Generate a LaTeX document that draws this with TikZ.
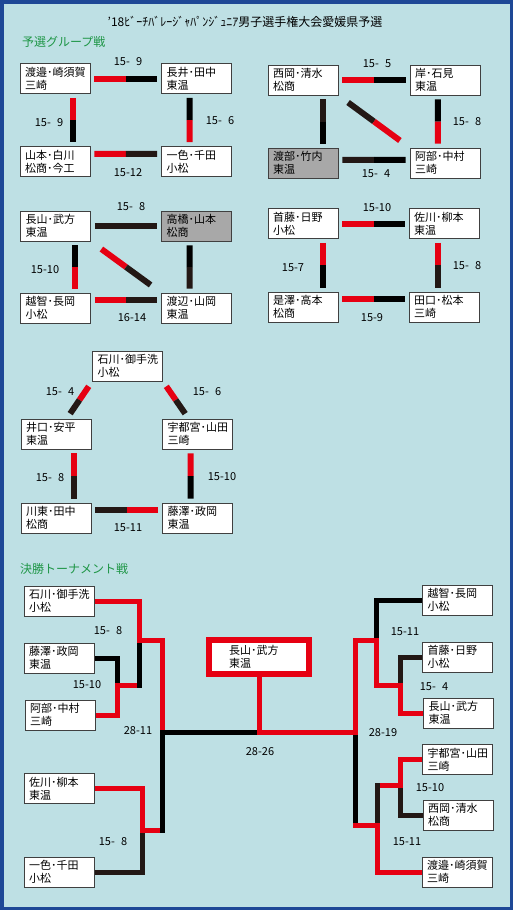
\documentclass[tikz,border=0pt]{standalone}
\usepackage{fontspec}
\newfontfamily\jp{Noto Sans CJK JP}
\usetikzlibrary{calc}
\definecolor{fundo}{RGB}{190,224,228}
\definecolor{moldura}{RGB}{30,72,150}
\definecolor{vermelho}{RGB}{230,0,18}
\definecolor{escuro}{RGB}{35,24,21}
\definecolor{verde}{RGB}{30,150,70}
\definecolor{cinza}{RGB}{168,168,168}
\pgfdeclarelayer{back}
\pgfsetlayers{back,main}
\newcommand{\esp}{\hphantom{0}}
\newcommand{\duplo}[5][4pt]{%
  \coordinate (meio) at ($(#2)!0.5!(#3)$);
  \draw[barra,#4,shorten <=#1] (#2) -- (meio);
  \draw[barra,#5,shorten >=#1] (meio) -- (#3);}

\begin{document}
\begin{tikzpicture}[x=1pt, y=-1pt,
    caixa/.style={draw=black!75, fill=white, line width=0.8pt, text width=60pt,
      align=left, minimum width=70pt, minimum height=30pt, inner xsep=5pt,
      inner ysep=1pt, font=\jp\fontsize{11}{13}\selectfont},
    fora/.style={caixa, fill=cinza},
    campeao/.style={caixa, draw=vermelho, line width=6pt, minimum width=100pt, minimum height=34pt},
    placar/.style={font=\jp\fontsize{11}{13}\selectfont},
    barra/.style={line width=6pt},
    linha/.style={line width=5pt, line cap=rect, line join=miter},
    titulo/.style={font=\jp\fontsize{12}{14}\selectfont},
    secao/.style={font=\jp\fontsize{12}{14}\selectfont, text=verde, anchor=west, inner sep=0pt}]
  \begin{pgfonlayer}{back}
    \fill[fundo] (0,0) rectangle (513,910);
  \end{pgfonlayer}
  \useasboundingbox (0,0) rectangle (513,910);
  % Título
  \node[titulo] (titulo) at (245,22) {’18ﾋﾞｰﾁﾊﾞﾚｰｼﾞｬﾊﾟﾝｼﾞｭﾆｱ男子選手権大会愛媛県予選};
  \node[secao] (grupos) at (22,42) {予選グループ戦};

  % Grupo 1
  \node[caixa] (A1) at (55,78.5) {渡邉･崎須賀\\三崎};
  \node[caixa] (A2) at (196.5,78.5) {長井･田中\\東温};
  \node[caixa] (A3) at (55,161.5) {山本･白川\\松商･今工};
  \node[caixa] (A4) at (196.5,161.5) {一色･千田\\小松};
  \duplo{A1.east}{A2.west}{vermelho}{black}
  \duplo{A1.-40}{A3.40}{vermelho}{black}
  \duplo{A2.-114}{A4.114}{black}{vermelho}
  \duplo{A3.12}{A4.168}{vermelho}{escuro}
  \node[placar] (a12) at (128,62) {15-\esp9};
  \node[placar] (a13) at (49,123) {15-\esp9};
  \node[placar] (a24) at (220,121) {15-\esp6};
  \node[placar] (a34) at (128,173) {15-12};

  % Grupo 2
  \node[caixa] (B1) at (303,80) {西岡･清水\\松商};
  \node[caixa] (B2) at (445,80) {岸･石見\\東温};
  \node[fora] (B3) at (303,163) {渡部･竹内\\東温};
  \node[caixa] (B4) at (445,163) {阿部･中村\\三崎};
  \duplo{B1.east}{B2.west}{vermelho}{black}
  \duplo{B1.-38}{B3.38}{escuro}{black}
  \duplo{B2.-115}{B4.115}{black}{vermelho}
  \duplo[12pt]{B1.south east}{B4.north west}{escuro}{vermelho}
  \duplo{B3.5}{B4.175}{escuro}{black}
  \node[placar] (b12) at (377,64) {15-\esp5};
  \node[placar] (b24) at (467,122) {15-\esp8};
  \node[placar] (b34) at (376,174) {15-\esp4};

  % Grupo 3
  \node[caixa] (C1) at (55.5,226) {長山･武方\\東温};
  \node[fora] (C2) at (196.5,226) {高橋･山本\\松商};
  \node[caixa] (C3) at (55.5,308) {越智･長岡\\小松};
  \node[caixa] (C4) at (196.5,308) {渡辺･山岡\\東温};
  \duplo{C1.east}{C2.west}{escuro}{escuro}
  \duplo{C1.-39}{C3.39}{black}{vermelho}
  \duplo[13pt]{C1.south east}{C4.north west}{vermelho}{escuro}
  \duplo{C2.-114}{C4.114}{black}{escuro}
  \duplo{C3.13}{C4.167}{vermelho}{escuro}
  \node[placar] (c12) at (131,207) {15-\esp8};
  \node[placar] (c13) at (45,270) {15-10};
  \node[placar] (c34) at (132,318) {16-14};

  % Grupo 4
  \node[caixa] (D1) at (303,223.5) {首藤･日野\\小松};
  \node[caixa] (D2) at (444,223.5) {佐川･柳本\\東温};
  \node[caixa] (D3) at (303,307) {是澤･高本\\松商};
  \node[caixa] (D4) at (444,307) {田口･松本\\三崎};
  \duplo{D1.east}{D2.west}{vermelho}{black}
  \duplo{D1.-38}{D3.38}{vermelho}{black}
  \duplo{D2.-112}{D4.112}{vermelho}{escuro}
  \duplo{D3.13}{D4.167}{vermelho}{black}
  \node[placar] (d12) at (377,208) {15-10};
  \node[placar] (d13) at (293,268) {15-7};
  \node[placar] (d24) at (467,266) {15-\esp8};
  \node[placar] (d34) at (372,318) {15-9};

  % Grupo 5
  \node[caixa] (E1) at (127.5,366) {石川･御手洗\\小松};
  \node[caixa] (E2) at (56,434) {井口･安平\\東温};
  \node[caixa] (E3) at (197.5,434) {宇都宮･山田\\三崎};
  \node[caixa] (E4) at (56,518) {川東･田中\\松商};
  \node[caixa] (E5) at (197.5,518) {藤澤･政岡\\東温};
  \duplo[6pt]{E1.south west}{E2.55}{vermelho}{escuro}
  \duplo[6pt]{E1.south east}{E3.120}{vermelho}{escuro}
  \duplo{E2.-40}{E4.40}{vermelho}{escuro}
  \duplo{E3.-114}{E5.114}{vermelho}{black}
  \duplo{E4.13}{E5.167}{escuro}{vermelho}
  \node[placar] (e12) at (60,392) {15-\esp4};
  \node[placar] (e13) at (207,392) {15-\esp6};
  \node[placar] (e24) at (50,478) {15-\esp8};
  \node[placar] (e35) at (222,477) {15-10};
  \node[placar] (e45) at (128,528) {15-11};

  % Torneio
  \node[secao] (torneio) at (20,569) {決勝トーナメント戦};
  \node[caixa] (T1) at (59,601) {石川･御手洗\\小松};
  \node[caixa] (T2) at (59,658) {藤澤･政岡\\東温};
  \node[caixa] (T3) at (60,715) {阿部･中村\\三崎};
  \node[caixa] (T4) at (59,788.5) {佐川･柳本\\東温};
  \node[caixa] (T5) at (59,872) {一色･千田\\小松};
  \node[caixa] (T6) at (457.5,600) {越智･長岡\\小松};
  \node[caixa] (T7) at (457.5,657) {首藤･日野\\小松};
  \node[caixa] (T8) at (458.5,713) {長山･武方\\東温};
  \node[caixa] (T9) at (457.5,759.5) {宇都宮･山田\\三崎};
  \node[caixa] (T10) at (458,815) {西岡･清水\\松商};
  \node[caixa] (T11) at (457,872) {渡邉･崎須賀\\三崎};
  \node[campeao] (W) at (259,657) {長山･武方\\東温};
  \coordinate (l1) at (117,685);
  \coordinate (l2) at (139,640);
  \coordinate (l3) at (142,830);
  \coordinate (l4) at (162.5,732.5);
  \coordinate (f) at (W.south |- l4);
  \coordinate (r1) at (400,685);
  \coordinate (r2) at (376,640);
  \coordinate (r3) at (400,785);
  \coordinate (r4) at (377,825);
  \coordinate (r5) at (355,732.5);
  \begin{pgfonlayer}{back}
    % lado esquerdo
    \draw[linha,black] (T2.east) -| (l1);
    \draw[linha,vermelho] (T3.east) -| (l1) -- (l1 -| l2);
    \draw[linha,black] (l1 -| l2) -- (l2);
    \draw[linha,vermelho] (T1.east) -| (l2) -| (l4);
    \draw[linha,escuro] (T5.east) -| (l3);
    \draw[linha,vermelho] (T4.east) -| (l3) -- (l3 -| l4);
    \draw[linha,black] (l3 -| l4) -- (l4) -- (f);
    % lado direito
    \draw[linha,black] (T6.west) -| (r2);
    \draw[linha,escuro] (T7.west) -| (r1);
    \draw[linha,escuro] (T10.west) -| (r3);
    \draw[linha,vermelho] (T9.west) -| (r3) -- (r3 -| r4);
    \draw[linha,escuro] (r3 -| r4) -- (r4);
    \draw[linha,black] (r5) -- (r4 -| r5);
    \draw[linha,vermelho] (T11.west) -| (r4) -- (r4 -| r5);
    \draw[linha,vermelho] (T8.west) -| (r1) -- (r1 -| r2) -- (r2) -| (r5) -- (f) -- (W.south);
  \end{pgfonlayer}
  \node[placar] (t1) at (108,631) {15-\esp8};
  \node[placar] (t2) at (87,685) {15-10};
  \node[placar] (t3) at (138,731) {28-11};
  \node[placar] (t4) at (113,842) {15-\esp8};
  \node[placar] (t5) at (260,752) {28-26};
  \node[placar] (t6) at (405,632) {15-11};
  \node[placar] (t7) at (434,687) {15-\esp4};
  \node[placar] (t8) at (383,733) {28-19};
  \node[placar] (t9) at (430,788) {15-10};
  \node[placar] (t10) at (407,842) {15-11};

  % Moldura
  \draw[moldura, line width=3.5pt] (1.75,1.75) rectangle (511.25,908.25);
\end{tikzpicture}
\end{document}
